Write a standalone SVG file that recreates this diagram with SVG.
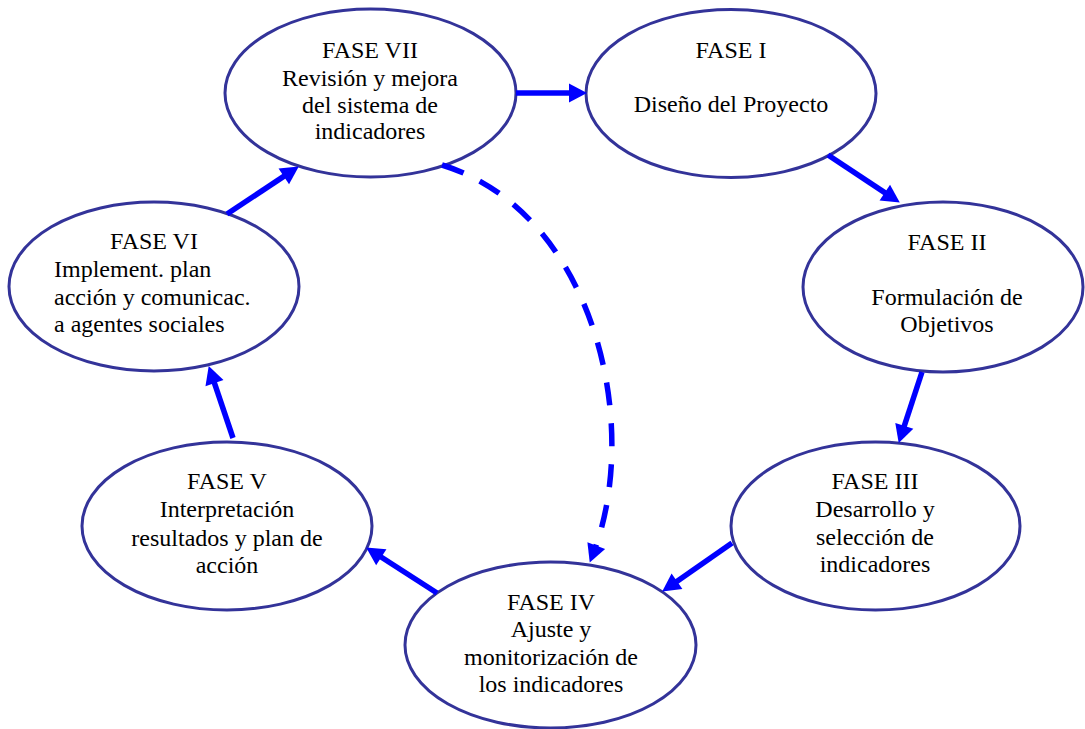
<svg xmlns="http://www.w3.org/2000/svg" width="1085" height="729" viewBox="0 0 1085 729">
  <style>
    .node ellipse { fill: #ffffff; stroke: #333399; stroke-width: 3; }
    .node text { font-family: "Liberation Serif", "Times New Roman", serif; font-size: 24px; fill: #000000; text-anchor: middle; }
    .node text.left { text-anchor: start; }
    .link { fill: none; stroke: #0000ff; stroke-width: 5.5; marker-end: url(#head); }
    .dashed { stroke-dasharray: 23 18; }
  </style>
  <defs>
    <marker id="head" markerUnits="userSpaceOnUse" markerWidth="20" markerHeight="20" viewBox="0 0 18 20" refX="9" refY="10" orient="auto">
      <path d="M0,0.5 L18,10 L0,19.5 z" fill="#0000ff"/>
    </marker>
  </defs>

  <g id="fase-vii" class="node">
    <ellipse cx="370.5" cy="93" rx="145.5" ry="84"/>
    <text x="370" y="58">FASE VII</text>
    <text x="370" y="86">Revisión y mejora</text>
    <text x="370" y="113">del sistema de</text>
    <text x="370" y="139">indicadores</text>
  </g>

  <g id="fase-i" class="node">
    <ellipse cx="731" cy="93.5" rx="145" ry="84"/>
    <text x="731" y="58">FASE I</text>
    <text x="731" y="112">Diseño del Proyecto</text>
  </g>

  <g id="fase-ii" class="node">
    <ellipse cx="943" cy="287" rx="140" ry="85"/>
    <text x="947" y="250">FASE II</text>
    <text x="947" y="305">Formulación de</text>
    <text x="947" y="332">Objetivos</text>
  </g>

  <g id="fase-iii" class="node">
    <ellipse cx="875.5" cy="526" rx="144.5" ry="84"/>
    <text x="875" y="489">FASE III</text>
    <text x="875" y="517">Desarrollo y</text>
    <text x="875" y="545">selección de</text>
    <text x="875" y="572">indicadores</text>
  </g>

  <g id="fase-iv" class="node">
    <ellipse cx="550.5" cy="645" rx="145.5" ry="83"/>
    <text x="551" y="610">FASE IV</text>
    <text x="551" y="637">Ajuste y</text>
    <text x="551" y="665">monitorización de</text>
    <text x="551" y="692">los indicadores</text>
  </g>

  <g id="fase-v" class="node">
    <ellipse cx="227" cy="526" rx="145" ry="84"/>
    <text x="227" y="489">FASE V</text>
    <text x="227" y="517">Interpretación</text>
    <text x="227" y="546">resultados y plan de</text>
    <text x="227" y="573">acción</text>
  </g>

  <g id="fase-vi" class="node">
    <ellipse cx="154" cy="286.5" rx="145" ry="84.5"/>
    <text x="154" y="249">FASE VI</text>
    <text class="left" x="54" y="277">Implement. plan</text>
    <text class="left" x="54" y="305">acción y comunicac.</text>
    <text class="left" x="54" y="332">a agentes sociales</text>
  </g>

  <g id="connectors">
    <line class="link" x1="516" y1="93" x2="578" y2="93"/>
    <line class="link" x1="828" y1="155" x2="892.3" y2="197.6"/>
    <line class="link" x1="922" y1="372" x2="901.5" y2="434.4"/>
    <line class="link" x1="732" y1="543" x2="669.6" y2="586.4"/>
    <line class="link" x1="437" y1="593" x2="373.7" y2="552.3"/>
    <line class="link" x1="233" y1="438" x2="211.6" y2="374.6"/>
    <line class="link" x1="227" y1="214" x2="291.3" y2="171.4"/>
    <path class="link dashed" d="M442,165 C594,212 643,425 593,554"/>
  </g>
</svg>
